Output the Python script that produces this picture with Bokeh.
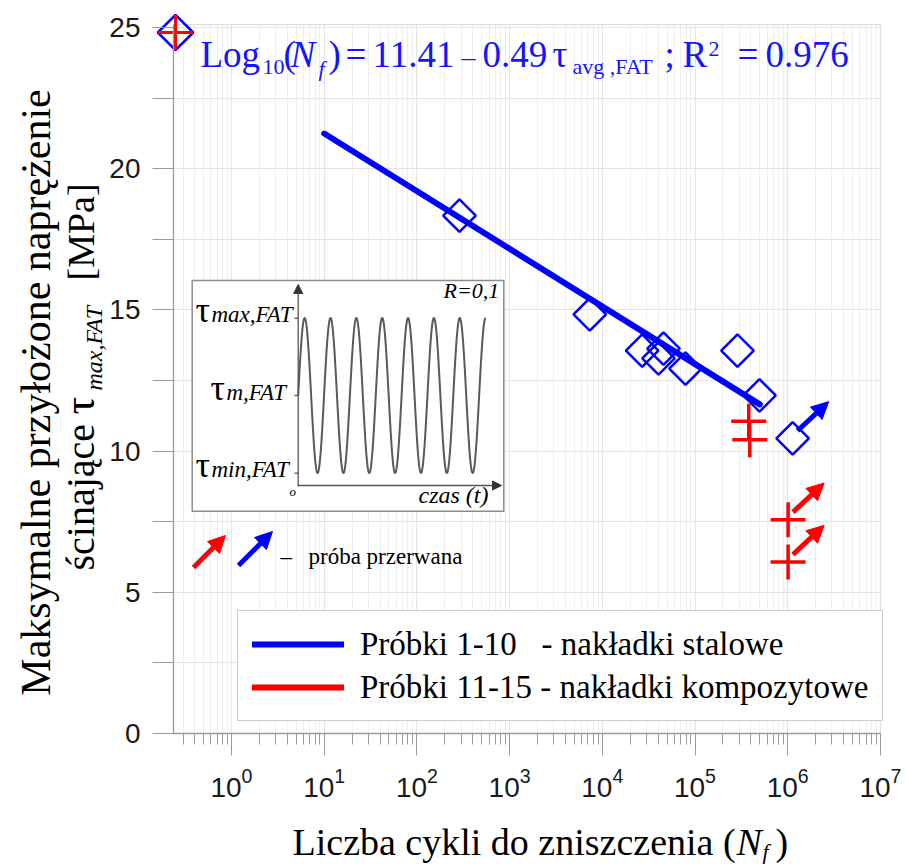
import numpy as np
from bokeh.plotting import figure
from bokeh.models import (Range1d, LinearScale, FixedTicker, Label, Arrow, NormalHead,
                          Legend, LegendItem)
from bokeh.embed import file_html
from bokeh.resources import INLINE

# ---------------- data ----------------
steel_cycles = [288, 7330, 26900, 40400, 45700, 79000, 287000, 496000, 1130000]
steel_stress = [18.34, 14.84, 13.56, 13.28, 13.63, 12.92, 13.56, 11.97, 10.45]
steel_runout = [False, False, False, False, False, False, False, False, True]

comp_cycles = [380000, 390000, 1010000, 1010000]
comp_stress = [11.06, 10.40, 7.57, 6.07]
comp_runout = [False, False, True, True]

fit_intercept = 11.41
fit_slope = 0.49
fit_cycles = [10, 5.0e5]
r_squared = 0.976

x_ticks = [1, 10, 100, 1e3, 1e4, 1e5, 1e6, 1e7]
y_ticks = [0, 5, 10, 15, 20, 25]
y_minor = [2.5, 7.5, 12.5, 17.5, 22.5]
x_lim = (0.2367, 1e7)
y_lim = (0, 25.1)

legend_labels = ["Próbki 1-10\u00a0\u00a0 - nakładki stalowe",
                 "Próbki 11-15 - nakładki kompozytowe"]

BLUE = "#0000ff"
RED = "#ff0000"

# ---------------- geometry (canvas pixels) ----------------
W, H = 905, 867
X_ONE, DECADE = 231.0, 92.7      # pixel of x = 1 and pixels per decade
Y_ZERO, UNIT = 733.0, 28.24      # pixel of y = 0 and pixels per MPa

p = figure(width=W, height=H, x_axis_type="log",
           x_range=Range1d(10 ** ((0 - X_ONE) / DECADE), 10 ** ((W - X_ONE) / DECADE)),
           y_range=Range1d((Y_ZERO - H) / UNIT, Y_ZERO / UNIT),
           output_backend="svg", toolbar_location=None,
           min_border_left=0, min_border_right=0, min_border_top=0, min_border_bottom=0)
p.background_fill_color = "white"
p.border_fill_color = "white"
p.outline_line_color = None

# pixel-space ranges for decorations (image coordinates, y downward)
p.extra_x_ranges = {"px": Range1d(0, W)}
p.extra_y_ranges = {"py": Range1d(H, 0)}
p.extra_x_scales = {"px": LinearScale()}
p.extra_y_scales = {"py": LinearScale()}
PX = dict(x_range_name="px", y_range_name="py")

minor_x = [m * 10.0 ** k for k in range(-1, 7) for m in range(2, 10)]
minor_x = [v for v in minor_x if x_lim[0] <= v <= x_lim[1]]
p.xaxis.ticker = FixedTicker(ticks=x_ticks, minor_ticks=minor_x)
p.yaxis.ticker = FixedTicker(ticks=y_ticks, minor_ticks=y_minor)
p.xaxis.fixed_location = y_lim[0]
p.yaxis.fixed_location = x_lim[0]
p.xaxis.bounds = x_lim
p.yaxis.bounds = y_lim

for ax in (p.xaxis, p.yaxis):
    ax.axis_line_color = "#9a9a9a"
    ax.axis_line_width = 1.3
    ax.major_tick_line_color = "#9a9a9a"
    ax.minor_tick_line_color = "#9a9a9a"
    ax.major_tick_in = 0
    ax.minor_tick_in = 0
    ax.major_label_text_font = "Liberation Sans"
    ax.major_label_text_color = "#1a1a1a"
p.xaxis.major_tick_out = 22
p.xaxis.minor_tick_out = 11
p.xaxis.major_label_text_font_size = "28px"
p.xaxis.major_label_standoff = 12
p.yaxis.major_tick_out = 21
p.yaxis.minor_tick_out = 21
p.yaxis.major_label_text_font_size = "28px"
p.yaxis.major_label_standoff = 12

p.xgrid.grid_line_color = "#e4e4e4"
p.xgrid.minor_grid_line_color = "#efefef"
p.ygrid.grid_line_color = "#e4e4e4"
p.ygrid.minor_grid_line_color = "#e4e4e4"

# white margins around the plotting area (hide grid outside it)
left_px = X_ONE + DECADE * np.log10(x_lim[0])
right_px = X_ONE + DECADE * np.log10(x_lim[1])
top_px = Y_ZERO - UNIT * y_lim[1]
p.quad(left=[0, 0, 0, right_px], right=[left_px, W, W, W],
       top=[0, 0, Y_ZERO, 0], bottom=[H, top_px, H, H],
       fill_color="white", line_color=None, **PX)
p.quad(left=left_px, right=right_px, top=top_px, bottom=Y_ZERO,
       fill_color=None, line_color="#e0e0e0", line_width=1.2, **PX)

# ---------------- inset (schematic of the load cycle) ----------------
p.quad(left=191.7, right=503.3, top=280, bottom=510.7, fill_color="white",
       line_color="#8c8c8c", line_width=1.5, **PX)
t = np.linspace(0, 7.25, 700)
p.line(297.7 + t * 25.85, 395 - 77.5 * np.sin(2 * np.pi * t),
       line_color="#5a5a5a", line_width=2, **PX)
p.add_layout(Arrow(end=NormalHead(size=9, fill_color="#333333", line_color="#333333"),
                   x_start=297.7, y_start=486, x_end=297.7, y_end=284,
                   line_color="#555555", line_width=1.3, **PX))
p.add_layout(Arrow(end=NormalHead(size=9, fill_color="#333333", line_color="#333333"),
                   x_start=297.7, y_start=485, x_end=501, y_end=485,
                   line_color="#555555", line_width=1.3, **PX))
p.segment(x0=[294, 294, 294], y0=[317.7, 395, 472.7], x1=[297.7] * 3,
          y1=[317.7, 395, 472.7], line_color="#555555", line_width=1.3, **PX)

K = 0.37  # measured offset of the rendered baseline, in em


def lab(x, y, text, size, style="normal", color="black", font="Liberation Serif",
        align="left", angle=0.0):
    """Place text so that its baseline lies at pixel (x, y) (or x for vertical text)."""
    if angle == 0.0:
        y = y - K * size
    else:
        x = x - K * size
    p.add_layout(Label(x=x, y=y, text=text, text_font=font,
                       text_font_size=f"{size}px", text_font_style=style,
                       text_color=color, text_align=align, text_baseline="alphabetic",
                       angle=angle, **PX))


for tx, sub, sx, by in [(195, "max,FAT", 211, 323), (210, "m,FAT", 226, 401),
                        (195, "min,FAT", 211, 478)]:
    lab(tx, by, "τ", 36)
    lab(sx, by, sub, 23, style="italic")
lab(289, 496, "o", 13, style="italic")
lab(418, 503, "czas (t)", 24, style="italic")
lab(443, 298, "R=0,1", 22, style="italic")

# ---------------- data marks ----------------
p.scatter(steel_cycles, steel_stress, marker="square", angle=np.pi / 4, size=23,
          fill_color=None, line_color=BLUE, line_width=2.5)

fx = np.array(fit_cycles, dtype=float)
fy = (fit_intercept - np.log10(fx)) / fit_slope
fit_line = p.line(fx, fy, line_color=BLUE, line_width=6, line_cap="round")

p.scatter(comp_cycles, comp_stress, marker="cross", size=35,
          line_color=RED, line_width=3.5)

# key line for the composite series (no drawn segment, only used by the legend)
red_key = p.line(x=comp_cycles, y=[np.nan] * len(comp_cycles), line_color=RED,
                 line_width=6, line_cap="round")

# run-out arrows (test stopped)
for xs, ys, ro, c in [(steel_cycles, steel_stress, steel_runout, BLUE),
                      (comp_cycles, comp_stress, comp_runout, RED)]:
    for xv, yv, r in zip(xs, ys, ro):
        if r:
            p.add_layout(Arrow(end=NormalHead(size=17, fill_color=c, line_color=c),
                               x_start=xv * 1.13, y_start=yv + 0.27,
                               x_end=xv * 2.45, y_end=yv + 1.3,
                               line_color=c, line_width=5))

# arrow key in the lower left
p.add_layout(Arrow(end=NormalHead(size=17, fill_color=RED, line_color=RED),
                   x_start=193, y_start=567, x_end=225, y_end=535,
                   line_color=RED, line_width=5, **PX))
p.add_layout(Arrow(end=NormalHead(size=17, fill_color=BLUE, line_color=BLUE),
                   x_start=238, y_start=565, x_end=272, y_end=531,
                   line_color=BLUE, line_width=5, **PX))
lab(280, 565, "–", 23)
lab(308, 565, "próba przerwana", 23)

# leftover key marker at the top left
p.scatter([175], [32], marker="square", angle=np.pi / 4, size=25, fill_color=None,
          line_color=BLUE, line_width=2.5, **PX)
p.scatter([175], [32], marker="cross", size=35, line_color=RED, line_width=3, **PX)

# ---------------- legend ----------------
legend = Legend(items=[LegendItem(label=legend_labels[0], renderers=[fit_line]),
                       LegendItem(label=legend_labels[1], renderers=[red_key])],
                location=(237, H - 721), label_text_font="Liberation Serif",
                label_text_font_size="33px", label_text_color="black",
                glyph_width=92, glyph_height=38,
                label_height=38, label_standoff=16, padding=14, spacing=5, margin=0,
                border_line_color="#999999", border_line_width=1.5,
                background_fill_color="white", background_fill_alpha=1.0)
p.add_layout(legend)

# ---------------- regression equation ----------------
EQ = "#1414ff"
eq_parts = [("Log", 200, 68, 37, "normal"), ("10", 262, 75, 22, "normal"),
            ("(", 283, 68, 37, "normal"), ("N", 290, 68, 37, "italic"),
            ("f", 318, 76, 22, "italic"), (")", 328, 68, 37, "normal"),
            ("=", 345, 68, 37, "normal"), (f"{fit_intercept:.2f}", 372, 68, 37, "normal"),
            ("–", 461, 66, 28, "normal"), (f"{fit_slope:.2f}", 482, 68, 37, "normal"),
            ("τ", 552, 68, 37, "normal"), ("avg ,FAT", 572, 74, 22, "normal"),
            (";", 664, 68, 37, "normal"), ("R", 682, 68, 37, "normal"),
            ("2", 708, 57, 22, "normal"), ("=", 737, 68, 37, "normal"),
            (f"{r_squared:.3f}", 765, 68, 37, "normal")]
for txt, x, y, s, st in eq_parts:
    lab(x, y, txt, s, style=st, color=EQ)

# ---------------- axis titles ----------------
lab(292, 856, "Liczba cykli do zniszczenia (", 38)
lab(736, 856, "N", 38, style="italic")
lab(762, 859, "f", 22, style="italic")
lab(775, 856, ")", 38)

A = np.pi / 2
lab(51, 392, "Maksymalne przyłożone naprężenie", 42, align="center", angle=A)
lab(95, 570, "ścinające", 40, angle=A)
lab(95, 414, "τ", 44, angle=A)
lab(102, 390, "max,FAT", 24, style="italic", angle=A)
lab(95, 280, "[MPa]", 38, angle=A)

open("out.html", "w").write(file_html(p, INLINE))
